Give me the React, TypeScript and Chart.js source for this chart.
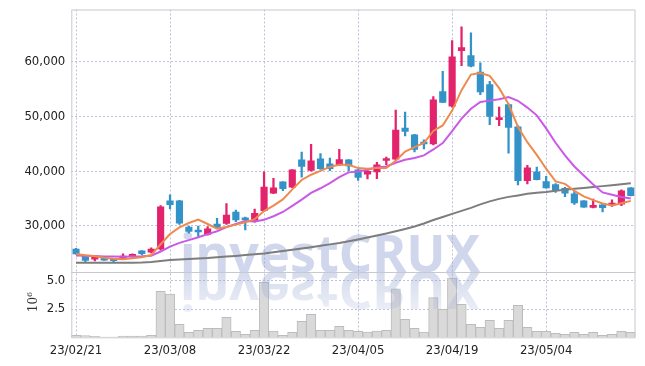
import React, { useEffect, useRef } from 'react';
import { Chart, registerables } from 'chart.js';
Chart.register(...registerables);

const dates = [
  '23/02/21','23/02/22','23/02/23','23/02/24','23/02/27','23/02/28','23/03/02','23/03/03','23/03/06','23/03/07',
  '23/03/08','23/03/09','23/03/10','23/03/13','23/03/14','23/03/15','23/03/16','23/03/17','23/03/20','23/03/21',
  '23/03/22','23/03/23','23/03/24','23/03/27','23/03/28','23/03/29','23/03/30','23/03/31','23/04/03','23/04/04',
  '23/04/05','23/04/06','23/04/07','23/04/10','23/04/11','23/04/12','23/04/13','23/04/14','23/04/17','23/04/18',
  '23/04/19','23/04/20','23/04/21','23/04/24','23/04/25','23/04/26','23/04/27','23/04/28','23/05/02','23/05/03',
  '23/05/04','23/05/08','23/05/09','23/05/10','23/05/11','23/05/12','23/05/15','23/05/16','23/05/17','23/05/18',
];

const opens = [
  25800, 24500, 23950, 24000, 23800, 24050, 24450, 25450, 25200, 25800,
  34600, 34600, 29800, 29200, 28450, 30350, 30450, 32550, 31450, 30800,
  32800, 36000, 38050, 37100, 42050, 40150, 42250, 41350, 41150, 42050,
  40250, 39450, 39850, 41950, 42200, 47850, 46650, 45050, 44950, 54500,
  51850, 62000, 61100, 58100, 55800, 49400, 52150, 48100, 38250, 39900,
  38100, 37550, 36850, 35850, 34600, 33400, 33850, 33800, 34000, 36950,
];
const highs = [
  25900, 24550, 24300, 24050, 23850, 24900, 24900, 25500, 26000, 33700,
  35700, 34700, 30000, 30000, 29900, 31400, 34100, 32900, 31600, 33100,
  39900, 38700, 38100, 40300, 43500, 44900, 43200, 42400, 44000, 42100,
  40300, 40400, 41600, 42550, 51150, 50800, 46700, 45700, 53600, 58200,
  63850, 66350, 65250, 59750, 56400, 51700, 52300, 48300, 41050, 40750,
  39050, 37750, 37050, 36300, 34650, 34900, 34000, 34750, 36600, 37000,
];
const lows = [
  24800, 23500, 23600, 23700, 23350, 23950, 24200, 24750, 25100, 25600,
  33100, 30300, 28700, 28100, 28300, 29600, 30300, 30800, 29300, 30700,
  32600, 35900, 36450, 37000, 38900, 40000, 40300, 40100, 41000, 40100,
  38300, 38600, 38650, 41200, 42000, 46450, 43500, 44050, 44800, 52500,
  51700, 59250, 59000, 53950, 48500, 48300, 43300, 37500, 37650, 38400,
  36900, 36100, 35350, 33950, 33400, 33300, 32550, 33550, 33700, 35500,
];
const closes = [
  24900, 23700, 24050, 23750, 23650, 24500, 24550, 24950, 25800, 33500,
  33900, 30500, 29000, 28900, 29500, 29700, 32000, 31100, 31100, 32300,
  37100, 36950, 36800, 40250, 40850, 41900, 40450, 40450, 42100, 40950,
  38850, 39950, 41150, 42050, 47500, 47250, 43950, 44950, 53000, 52550,
  60850, 62550, 59150, 54450, 50000, 49600, 48000, 38250, 40600, 38450,
  36950, 36450, 36000, 34200, 33450, 33450, 33350, 34150, 36400, 35550,
];
// volume in millions of shares
const volumes = [
  0.18, 0.15, 0.09, 0.02, 0.02, 0.10, 0.10, 0.10, 0.18, 4.06,
  3.82, 1.15, 0.44, 0.62, 0.79, 0.79, 1.77, 0.53, 0.26, 0.62,
  4.86, 0.56, 0.18, 0.44, 1.41, 2.03, 0.62, 0.62, 0.97, 0.62,
  0.53, 0.47, 0.56, 0.62, 4.29, 1.59, 0.79, 0.47, 3.50, 2.47,
  5.24, 2.91, 1.15, 0.88, 1.50, 0.79, 1.50, 2.83, 0.88, 0.53,
  0.53, 0.35, 0.26, 0.44, 0.26, 0.44, 0.18, 0.26, 0.53, 0.44,
];
const maShort = [
  24880, 24640, 24460, 24200, 24010, 23930, 24100, 24280, 24690, 26660,
  28540, 29730, 30540, 31160, 30360, 29520, 29820, 30240, 30680, 31240,
  32720, 33710, 34850, 36680, 38390, 39350, 40050, 40780, 41150, 41170,
  40560, 40460, 40600, 40590, 41900, 43580, 44380, 45140, 47330, 48340,
  51060, 54780, 57620, 57910, 57400, 55150, 52240, 48060, 45290, 42980,
  40450, 38140, 37690, 36410, 35410, 34710, 34090, 33720, 34160, 34580,
];
const maMid = [
  24600, 24550, 24500, 24450, 24420, 24400, 24420, 24460, 24560, 25340,
  26240, 26920, 27410, 27930, 28510, 29030, 29780, 30390, 30920, 30800,
  31120, 31770, 32550, 33680, 34820, 36040, 36880, 37820, 38920, 39780,
  39960, 40260, 40690, 40870, 41540, 42070, 42420, 42870, 43960, 45120,
  47320, 49580, 51380, 52620, 52870, 53110, 53510, 52840, 51600, 50190,
  47800, 45190, 42880, 40850, 39200, 37580, 36120, 35710, 35290, 35000,
];
const maLong = [
  23300, 23300, 23300, 23300, 23300, 23300, 23300, 23330, 23420, 23600,
  23790, 23880, 23970, 24060, 24150, 24280, 24410, 24540, 24700, 24830,
  24980, 25200, 25440, 25650, 25890, 26130, 26390, 26640, 26900, 27210,
  27540, 27900, 28270, 28630, 29030, 29460, 29910, 30460, 31100, 31650,
  32200, 32750, 33300, 33940, 34490, 34940, 35310, 35580, 35860, 36080,
  36220, 36410, 36590, 36770, 36920, 37100, 37270, 37450, 37630, 37810,
];
const priceTicks = [30000, 40000, 50000, 60000];
const volumeTicks = [2.5, 5.0];
const watermark = 'investCRUX';

const UP = '#e3236b';
const DOWN = '#3393c8';
const GRID = 'rgba(185,185,215,0.9)';
const FONT = { family: "'DejaVu Sans Condensed', 'Liberation Sans Narrow', 'Roboto Condensed', sans-serif", size: 13 };

const decorPlugin = {
  id: 'decor',
  beforeDatasetsDraw(chart: any) {
    const { ctx } = chart;
    const base = chart.scales.yv.top;
    ctx.save();
    ctx.font = 'bold 52px "Noto Sans", sans-serif';
    ctx.fillStyle = 'rgba(150,165,210,0.45)';
    ctx.textBaseline = 'alphabetic';
    ctx.fillText(watermark, 180, base);
    ctx.restore();
  },
  afterDatasetsDraw(chart: any) {
    const { ctx, chartArea } = chart;
    const base = chart.scales.yv.top;
    ctx.save();
    ctx.beginPath();
    ctx.rect(chartArea.left, base, chartArea.right - chartArea.left, chartArea.bottom - base);
    ctx.clip();
    ctx.translate(0, 2 * base);
    ctx.scale(1, -1);
    const g = ctx.createLinearGradient(0, base - 50, 0, base);
    g.addColorStop(0, 'rgba(150,165,210,0.12)');
    g.addColorStop(1, 'rgba(150,165,210,0.4)');
    ctx.fillStyle = g;
    ctx.font = 'bold 52px "Noto Sans", sans-serif';
    ctx.fillText(watermark, 180, base);
    ctx.restore();
  },
  afterDraw(chart: any) {
    const { ctx, chartArea } = chart;
    const base = chart.scales.yv.top;
    ctx.save();
    ctx.strokeStyle = '#c8c8d0';
    ctx.lineWidth = 1;
    ctx.strokeRect(chartArea.left + 0.5, chartArea.top + 0.5, chartArea.right - chartArea.left - 1, chartArea.bottom - chartArea.top);
    ctx.beginPath();
    ctx.moveTo(chartArea.left, Math.round(base) + 0.5);
    ctx.lineTo(chartArea.right, Math.round(base) + 0.5);
    ctx.stroke();
    // 10^6 label
    ctx.fillStyle = '#333';
    ctx.translate(33, 302);
    ctx.rotate(-Math.PI / 2);
    ctx.font = '12px "DejaVu Serif", serif';
    const w = ctx.measureText('10').width;
    ctx.font = '8px "DejaVu Serif", serif';
    const w6 = ctx.measureText('6').width;
    const total = w + w6;
    ctx.font = '12px "DejaVu Serif", serif';
    ctx.textBaseline = 'alphabetic';
    ctx.fillText('10', -total / 2, 4);
    ctx.font = '8px "DejaVu Serif", serif';
    ctx.fillText('6', -total / 2 + w, -1);
    ctx.restore();
  },
};

export default function App() {
  const ref = useRef<HTMLCanvasElement>(null);
  useEffect(() => {
    const colors = closes.map((c, i) => (c >= opens[i] ? UP : DOWN));
    const noPad = (s: any) => { s.width = 71.3; s.paddingTop = 0; s.paddingBottom = 0; };
    const chart = new Chart(ref.current as HTMLCanvasElement, {
      type: 'bar',
      data: {
        labels: dates,
        datasets: [
          { type: 'line', data: maShort, borderColor: '#ef8a4f', borderWidth: 2, pointRadius: 0, yAxisID: 'y', order: 0 } as any,
          { type: 'line', data: maMid, borderColor: '#c95ae6', borderWidth: 2, pointRadius: 0, yAxisID: 'y', order: 0 } as any,
          { type: 'line', data: maLong, borderColor: '#7d7d7d', borderWidth: 2, pointRadius: 0, yAxisID: 'y', order: 0 } as any,
          { type: 'bar', data: opens.map((o, i) => [o, closes[i]]), backgroundColor: colors, barThickness: 6.5, grouped: false, minBarLength: 2, yAxisID: 'y', order: 1 } as any,
          { type: 'bar', data: lows.map((l, i) => [l, highs[i]]), backgroundColor: colors, barThickness: 1.6, grouped: false, yAxisID: 'y', order: 2 } as any,
          { type: 'bar', data: volumes, backgroundColor: '#d9d9d9', borderColor: '#bcbcbc', borderWidth: 1, barPercentage: 1, categoryPercentage: 1, grouped: false, yAxisID: 'yv', order: 3 } as any,
        ],
      },
      options: {
        animation: false,
        responsive: false,
        devicePixelRatio: 1,
        layout: { padding: { left: 0, right: 9.5, top: 9.5, bottom: 0 } },
        plugins: { legend: { display: false }, tooltip: { enabled: false } },
        scales: {
          x: {
            type: 'category',
            offset: true,
            grid: {
              offset: false,
              drawTicks: false,
              color: (c: any) => (c.index % 10 === 0 ? GRID : 'rgba(0,0,0,0)'),
            },
            border: { display: false, dash: [2, 2] },
            ticks: {
              autoSkip: false,
              maxRotation: 0,
              minRotation: 0,
              padding: 6,
              color: '#222',
              font: FONT,
              callback: (_v: any, i: number) => (i % 10 === 0 ? dates[i] : ''),
            },
            afterFit: (s: any) => { s.height = 28.7; },
          },
          y: {
            type: 'linear',
            position: 'left',
            stack: 'panels',
            stackWeight: 262.5,
            weight: 2,
            min: 21600,
            max: 69500,
            afterBuildTicks: (s: any) => { s.ticks = priceTicks.map((v) => ({ value: v })); },
            ticks: { padding: 6, color: '#222', font: FONT, callback: (v: any) => Number(v).toLocaleString('en-US') },
            grid: { color: GRID, drawTicks: false },
            border: { display: false, dash: [2, 2] },
            afterFit: noPad,
          },
          yv: {
            type: 'linear',
            position: 'left',
            stack: 'panels',
            stackWeight: 65.3,
            weight: 1,
            min: 0,
            max: 5.77,
            afterBuildTicks: (s: any) => { s.ticks = volumeTicks.map((v) => ({ value: v })); },
            ticks: { padding: 6, color: '#222', font: FONT, callback: (v: any) => Number(v).toFixed(1) },
            grid: { color: GRID, drawTicks: false },
            border: { display: false, dash: [2, 2] },
            afterFit: noPad,
          },
        },
      } as any,
      plugins: [decorPlugin],
    });
    return () => chart.destroy();
  }, []);
  return (
    <div style={{ position: 'fixed', left: 0, top: 0, width: 645, height: 366, background: '#fff' }}>
      <canvas ref={ref} width={645} height={366} style={{ width: 645, height: 366, display: 'block' }} />
    </div>
  );
}
